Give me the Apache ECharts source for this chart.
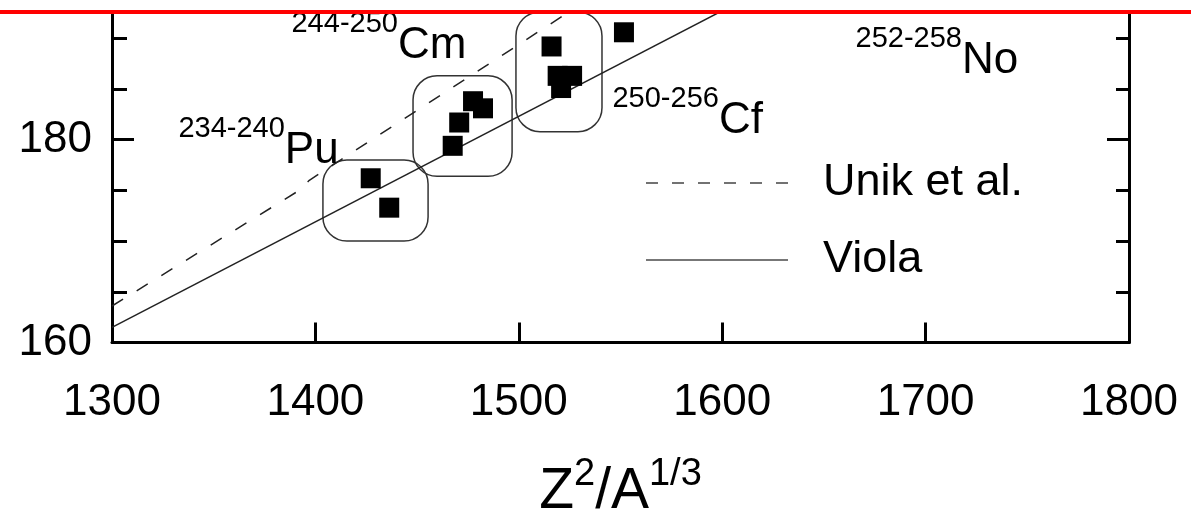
<!DOCTYPE html>
<html>
<head>
<meta charset="utf-8">
<script src="https://cdn.jsdelivr.net/npm/echarts@6/dist/echarts.min.js"></script>
<style>
  html, body { margin: 0; padding: 0; background: #fff; }
  #chart { width: 1191px; height: 526px; }
</style>
</head>
<body>
<div id="chart"></div>
<script>
// Fission barrier systematics: measured points per isotope group
const puPoints = [[1427.2, 176.2], [1436.3, 173.3]];
const cmPoints = [[1467.5, 179.4], [1470.7, 181.7], [1477.5, 183.8], [1482.4, 183.1]];
const cfPoints = [[1516.1, 189.2], [1519.1, 186.3], [1526.2, 186.3], [1520.8, 185.1]];
const noPoints = [[1551.7, 190.6]];

// Systematics curves
const unikX = [1300, 1392, 1397, 1540];
const unikY = [163.6, 175.0, 176.0, 194.6];
const violaX = [1300, 1620];
const violaY = [161.5, 194.8];

// Group outlines: [xMin, xMax, yMin, yMax]
const groupBoxes = [
  [1403.7, 1455.4, 170.0, 178.0],
  [1448.0, 1496.7, 176.4, 186.3],
  [1498.6, 1540.9, 180.8, 192.6]
];

// Isotope range labels: anchor x, anchor y, mass range, element
const isoLabelX = [1388.0, 1332.4, 1545.8, 1665.3];
const isoLabelY = [189.3, 178.9, 181.9, 187.8];
const isoMass = ['244-250', '234-240', '250-256', '252-258'];
const isoElem = ['Cm', 'Pu', 'Cf', 'No'];

// Axis ticks
const xMin = 1300, xMax = 1800, xStep = 100;
const yMin = 160, yMax = 192.6;
const yLabelValues = [160, 180];
const yMinorTicks = [165, 170, 175, 185, 190];
const yMajorTicks = [180];

const FONT = '"Liberation Sans", Arial, sans-serif';
const INK = '#000';

const zip = (xs, ys) => xs.map((x, i) => [x, ys[i]]);

const chart = echarts.init(document.getElementById('chart'), null, { renderer: 'canvas' });

const yAxisBase = {
  type: 'value', min: yMin, max: yMax,
  splitLine: { show: false },
  axisLabel: { show: false },
  axisLine: { show: false }
};

chart.setOption({
  animation: false,
  backgroundColor: '#fff',
  grid: { left: 112, right: 62, top: 12, bottom: 175, containLabel: false },
  xAxis: {
    type: 'value', min: xMin, max: xMax, interval: xStep,
    splitLine: { show: false },
    axisLine: { show: true, lineStyle: { color: '#000', width: 3 } },
    axisTick: { show: true, inside: true, length: 20, lineStyle: { color: '#000', width: 3 } },
    axisLabel: { fontSize: 44, fontFamily: FONT, color: INK, margin: 38, formatter: v => String(v) },
    name: '{b|Z}{s|2}{b|/A}{s|1/3}',
    nameLocation: 'middle',
    nameGap: 113,
    nameTextStyle: {
      rich: {
        b: { fontSize: 57, lineHeight: 74, fontFamily: FONT, color: INK, verticalAlign: 'middle' },
        s: { fontSize: 38, lineHeight: 38, fontFamily: FONT, color: INK, verticalAlign: 'top' }
      }
    }
  },
  yAxis: [
    Object.assign({}, yAxisBase, {
      position: 'left',
      axisLine: { show: true, lineStyle: { color: '#000', width: 3 } },
      axisTick: { show: true, inside: true, length: 15, customValues: yMinorTicks, lineStyle: { color: '#000', width: 3 } },
      axisLabel: { show: true, customValues: yLabelValues, fontSize: 44, fontFamily: FONT, color: INK, margin: 20 }
    }),
    Object.assign({}, yAxisBase, {
      position: 'left',
      axisTick: { show: true, inside: true, length: 22, customValues: yMajorTicks, lineStyle: { color: '#000', width: 3 } }
    }),
    Object.assign({}, yAxisBase, {
      position: 'right',
      axisLine: { show: true, lineStyle: { color: '#000', width: 3 } },
      axisTick: { show: true, inside: true, length: 13, customValues: yMinorTicks, lineStyle: { color: '#000', width: 3 } }
    }),
    Object.assign({}, yAxisBase, {
      position: 'right',
      axisTick: { show: true, inside: true, length: 22, customValues: yMajorTicks, lineStyle: { color: '#000', width: 3 } }
    })
  ],
  legend: {
    orient: 'vertical',
    left: 640,
    top: 153,
    itemWidth: 142,
    itemHeight: 14,
    itemGap: 27,
    selectedMode: false,
    textStyle: { fontSize: 45, lineHeight: 50, fontFamily: FONT, color: INK, padding: [0, 0, 0, 30] },
    data: [
      {
        name: 'Unik et al.',
        itemStyle: { color: 'rgba(0,0,0,0)', borderWidth: 0 },
        lineStyle: { color: '#444', width: 1.5, type: [12, 14] }
      },
      {
        name: 'Viola',
        itemStyle: { color: 'rgba(0,0,0,0)', borderWidth: 0 },
        lineStyle: { color: '#777', width: 2, type: 'solid' }
      }
    ]
  },
  series: [
    {
      name: 'Unik et al.', type: 'line', data: zip(unikX, unikY),
      symbol: 'none', clip: true, z: 3,
      itemStyle: { color: '#222' },
      lineStyle: { color: '#222', width: 1.5, type: [13, 16] }
    },
    {
      name: 'Viola', type: 'line', data: zip(violaX, violaY),
      symbol: 'none', clip: true, z: 3,
      itemStyle: { color: '#222' },
      lineStyle: { color: '#222', width: 1.5, type: 'solid' }
    },
    {
      name: 'groups', type: 'custom', clip: true, z: 2,
      data: groupBoxes,
      encode: { x: [0, 1], y: [2, 3] },
      renderItem: function (params, api) {
        const p0 = api.coord([api.value(0), api.value(3)]);
        const p1 = api.coord([api.value(1), api.value(2)]);
        return {
          type: 'rect',
          shape: { x: p0[0], y: p0[1], width: p1[0] - p0[0], height: p1[1] - p0[1], r: 24 },
          style: { fill: 'none', stroke: '#333', lineWidth: 1.5 }
        };
      }
    },
    {
      name: 'points', type: 'scatter', symbol: 'rect', symbolSize: 20, z: 4,
      itemStyle: { color: '#000', opacity: 1 },
      data: [].concat(puPoints, cmPoints, cfPoints, noPoints)
    },
    {
      name: 'isotopes', type: 'scatter', symbolSize: 1, z: 5,
      itemStyle: { color: 'rgba(0,0,0,0)', opacity: 1 },
      data: isoLabelX.map((x, i) => ({ value: [x, isoLabelY[i]], mass: isoMass[i], elem: isoElem[i] })),
      label: {
        show: true, position: 'right', distance: 0,
        formatter: p => '{s|' + p.data.mass + '}{m|' + p.data.elem + '}',
        rich: {
          s: { fontSize: 29, lineHeight: 29, fontFamily: FONT, color: INK, verticalAlign: 'top' },
          m: { fontSize: 44, lineHeight: 72, fontFamily: FONT, color: INK, verticalAlign: 'middle' }
        }
      }
    }
  ],
  graphic: [
    {
      type: 'rect', left: 0, top: 10, z: 100,
      shape: { width: 1191, height: 4 },
      style: { fill: '#ff0000' }
    }
  ]
});
</script>
</body>
</html>
